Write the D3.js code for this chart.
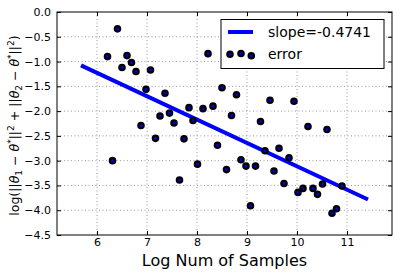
<!DOCTYPE html>
<html>
<head>
<meta charset="utf-8">
<script src="https://cdn.jsdelivr.net/npm/d3@7"></script>
<style>
body { margin: 0; background: #fff; }
text { font-family: "DejaVu Sans", sans-serif; }
</style>
</head>
<body>
<svg width="399" height="276"></svg>
<script>
// log number of samples vs error
const logN = [6.21, 6.31, 6.41, 6.50, 6.60, 6.69, 6.78, 6.88, 6.98, 7.07,
    7.17, 7.26, 7.36, 7.45, 7.54, 7.65, 7.74, 7.84, 7.92, 8.01,
    8.12, 8.22, 8.32, 8.41, 8.50, 8.59, 8.69, 8.79, 8.88, 8.98,
    9.07, 9.17, 9.27, 9.36, 9.46, 9.54, 9.64, 9.74, 9.84, 9.94,
    10.02, 10.12, 10.22, 10.32, 10.41, 10.51, 10.60, 10.70, 10.79, 10.90];
const logErr = [-0.90, -3.00, -0.34, -1.12, -0.88, -1.02, -1.20, -2.29, -1.56, -1.17,
    -2.55, -2.10, -1.64, -2.04, -2.24, -3.39, -2.56, -1.93, -2.19, -3.07,
    -1.95, -0.84, -1.90, -2.69, -1.53, -3.18, -2.09, -1.67, -2.98, -3.11,
    -3.91, -3.11, -2.21, -2.80, -1.78, -3.21, -2.75, -3.46, -2.94, -1.80,
    -3.64, -3.56, -2.31, -3.56, -3.68, -3.47, -2.37, -4.06, -3.97, -3.51];
const fitX = [5.68, 11.42];
const fitY = [-1.077, -3.784];
const xTicks = [6, 7, 8, 9, 10, 11];
const yTicks = [0, -0.5, -1, -1.5, -2, -2.5, -3, -3.5, -4, -4.5];

const svg = d3.select("svg");
const margin = {left: 57, top: 12, right: 7, bottom: 41};
const width = 399 - margin.left - margin.right;
const height = 276 - margin.top - margin.bottom;

const x = d3.scaleLinear().domain([5.2, 11.9]).range([0, width]);
const y = d3.scaleLinear().domain([-4.5, 0]).range([height, 0]);

const g = svg.append("g").attr("transform", `translate(${margin.left},${margin.top})`);

// grid
g.selectAll("line.gx").data(xTicks).enter().append("line")
    .attr("x1", d => x(d)).attr("x2", d => x(d))
    .attr("y1", 0).attr("y2", height)
    .attr("stroke", "#999").attr("stroke-width", 1).attr("stroke-dasharray", "1,2.5");
g.selectAll("line.gy").data(yTicks.slice(1, -1)).enter().append("line")
    .attr("y1", d => y(d)).attr("y2", d => y(d))
    .attr("x1", 0).attr("x2", width)
    .attr("stroke", "#999").attr("stroke-width", 1).attr("stroke-dasharray", "1,2.5");

// axes with inward ticks on all sides
const fmtY = d => d3.format(".1f")(d).replace("-", "\u2212");
g.append("g").attr("transform", `translate(0,${height})`)
    .call(d3.axisBottom(x).tickValues(xTicks).tickFormat(d3.format("d"))
        .tickSizeInner(-4).tickSizeOuter(0).tickPadding(3.5));
g.append("g")
    .call(d3.axisLeft(y).tickValues(yTicks).tickFormat(fmtY).tickSizeInner(-4).tickSizeOuter(0).tickPadding(6));
g.append("g").call(d3.axisTop(x).tickValues(xTicks).tickSizeInner(-4).tickSizeOuter(0).tickFormat(""));
g.append("g").attr("transform", `translate(${width},0)`)
    .call(d3.axisRight(y).tickValues(yTicks).tickSizeInner(-4).tickSizeOuter(0).tickFormat(""));
g.selectAll(".domain").remove();
g.selectAll(".tick text").attr("font-size", 11).attr("font-family", "DejaVu Sans").attr("fill", "#000");
g.selectAll(".tick line").attr("stroke", "#000");

// fit line
g.append("line")
    .attr("x1", x(fitX[0])).attr("y1", y(fitY[0]))
    .attr("x2", x(fitX[1])).attr("y2", y(fitY[1]))
    .attr("stroke", "#0000ff").attr("stroke-width", 4);

// points
g.selectAll("circle.pt").data(logN).enter().append("circle")
    .attr("cx", d => x(d))
    .attr("cy", (d, i) => y(logErr[i]))
    .attr("r", 2.7)
    .attr("fill", "#0000cc").attr("stroke", "#000").attr("stroke-width", 2.2);

// frame
g.append("rect").attr("width", width).attr("height", height)
    .attr("fill", "none").attr("stroke", "#000").attr("stroke-width", 1);

// legend
const lg = svg.append("g");
lg.append("rect").attr("x", 221).attr("y", 19.5).attr("width", 163).attr("height", 49)
    .attr("fill", "#fff").attr("stroke", "#000").attr("stroke-width", 1);
lg.append("line").attr("x1", 228).attr("x2", 253).attr("y1", 32).attr("y2", 32)
    .attr("stroke", "#0000ff").attr("stroke-width", 4);
lg.append("text").attr("x", 268).attr("y", 37).attr("font-size", 14).text("slope=-0.4741");
const legDots = [[230, 54.3], [241, 53.5], [251.3, 55.7]];
lg.selectAll("circle").data(legDots).enter().append("circle")
    .attr("cx", d => d[0]).attr("cy", d => d[1]).attr("r", 2.7)
    .attr("fill", "#0000cc").attr("stroke", "#000").attr("stroke-width", 2.2);
lg.append("text").attr("x", 268).attr("y", 59).attr("font-size", 14).text("error");

// x label
svg.append("text").attr("x", margin.left + width / 2).attr("y", 266)
    .attr("text-anchor", "middle").attr("font-size", 16).text("Log Num of Samples");

// y label (math)
const yl = svg.append("text")
    .attr("transform", `translate(19,${margin.top + height / 2 + 2}) rotate(-90)`)
    .attr("text-anchor", "middle")
    .attr("font-family", "DejaVu Serif").attr("font-size", 12.5);
const parts = [
    ["log(||", 0], ["\u03b8", 0, true], ["1", 3], [" \u2212 ", 0], ["\u03b8", 0, true], ["*", -5],
    ["||", 0], ["2", -5], [" + ||", 0], ["\u03b8", 0, true], ["2", 3], [" \u2212 ", 0],
    ["\u03b8", 0, true], ["*", -5], ["||", 0], ["2", -5], [")", 0]
];
let cur = 0;
parts.forEach(p => {
    const t = yl.append("tspan").text(p[0]).attr("dy", p[1] - cur);
    cur = p[1];
    if (p[1] !== 0) t.attr("font-size", 9);
    if (p[2]) t.attr("font-style", "italic");
});
</script>
</body>
</html>
